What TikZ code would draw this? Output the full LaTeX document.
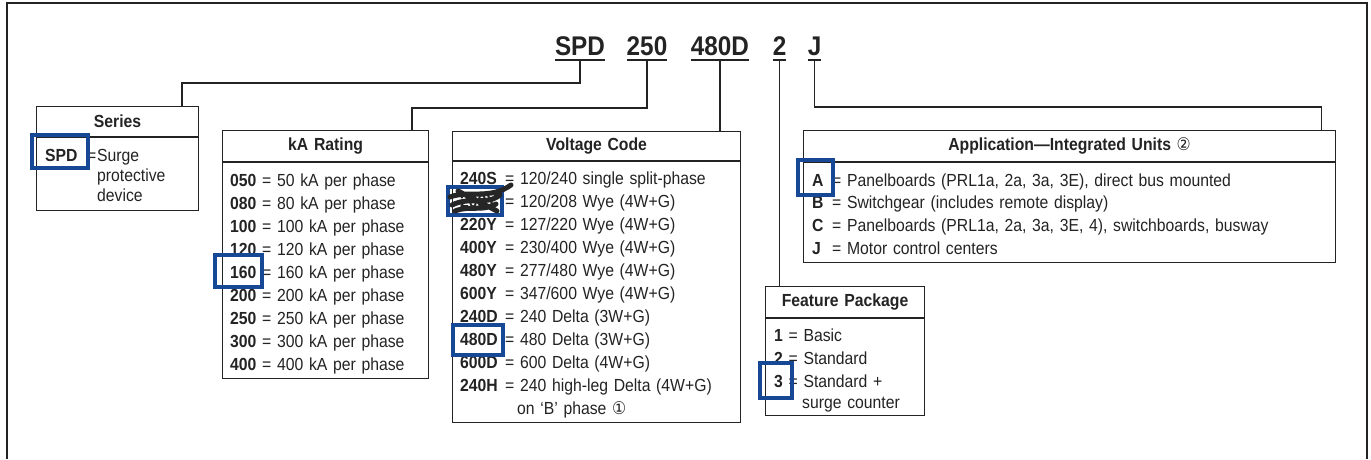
\documentclass[tikz,border=0pt]{standalone}
\usepackage{fontspec}
\setmainfont[FakeStretch=0.9,WordSpace=1.3]{Liberation Sans}
\newfontfamily\symfont[FakeStretch=0.9]{DejaVu Sans}
\definecolor{hlblue}{RGB}{22,72,150}
\definecolor{ink}{RGB}{35,35,35}
\newcommand{\vc}[1]{\makebox[45pt][l]{\bfseries #1}}
\newcommand{\ac}[1]{\makebox[20pt][l]{\bfseries #1}}
\begin{document}
\begin{tikzpicture}[x=1pt,y=-1pt,
  box/.style={draw=ink, line width=1.2pt, inner sep=0pt, anchor=north west},
  conn/.style={draw=ink, line width=1.2pt},
  hl/.style={draw=hlblue, line width=3.4pt},
  txt/.style={anchor=base west, inner sep=0pt, text=ink, font=\fontsize{17.5}{20}\selectfont},
  head/.style={anchor=center, inner sep=0pt, text=ink, font=\fontsize{17.5}{20}\selectfont\bfseries},
  code/.style={anchor=base, inner sep=0pt, text=ink, font=\fontsize{27}{30}\selectfont\bfseries}]
\useasboundingbox (0,0) rectangle (1371,459);
% frame
\draw[ink, line width=1.8pt] (7,459) -- (7,3) -- (1367,3) -- (1367,459);

% catalogue number
\node[code] (tSPD) at (580,55) {SPD};
\node[code] (t250) at (647,55) {250};
\node[code] (t480) at (720,55) {480D};
\node[code] (t2)   at (779.5,55) {2};
\node[code] (tJ)   at (814.5,55) {J};
\foreach \n in {tSPD,t250,t480,t2,tJ}
  \draw[conn] ([yshift=-5pt]\n.base west) -- ([yshift=-5pt]\n.base east);
\coordinate (uSPD) at ([yshift=-5pt]tSPD.base);
\coordinate (u250) at ([yshift=-5pt]t250.base);
\coordinate (u480) at ([yshift=-5pt]t480.base);
\coordinate (u2)   at ([yshift=-5pt]t2.base);
\coordinate (uJ)   at ([yshift=-5pt]tJ.base);

% boxes
\node[box, minimum width=162pt, minimum height=104pt] (series) at (36,106) {};
\node[box, minimum width=206pt, minimum height=248pt] (ka) at (222,130) {};
\node[box, minimum width=288pt, minimum height=291pt] (volt) at (452,131) {};
\node[box, minimum width=159pt, minimum height=129pt] (feat) at (765,286) {};
\node[box, minimum width=532pt, minimum height=132pt] (app) at (803,130) {};
\draw[conn] ([yshift=-31pt]series.north west) -- ([yshift=-31pt]series.north east);
\draw[conn] ([yshift=-32pt]ka.north west) -- ([yshift=-32pt]ka.north east);
\draw[conn] ([yshift=-30pt]volt.north west) -- ([yshift=-30pt]volt.north east);
\draw[conn] ([yshift=-32pt]feat.north west) -- ([yshift=-32pt]feat.north east);
\draw[conn] ([yshift=-32pt]app.north west) -- ([yshift=-32pt]app.north east);

% connectors
\draw[conn] (uSPD) -- (580,83) -| ([xshift=146pt]series.north west);
\draw[conn] (u250) -- (647,108) -| ([xshift=190pt]ka.north west);
\draw[conn] (u480) -- (u480 |- volt.north);
\draw[conn] (u2) -- (u2 |- feat.north);
\draw[conn] (uJ) -- (814.5,107) -| ([xshift=-15pt]app.north east);

% headers
\node[head] (hSeries) at ([yshift=-15.5pt]series.north) {Series};
\node[head] (hKa) at ([yshift=-16pt]ka.north) {kA Rating};
\node[head] (hVolt) at ([yshift=-15pt]volt.north) {Voltage Code};
\node[head] (hFeat) at ([yshift=-16pt]feat.north) {Feature Package};
\node[head] (hApp) at ([yshift=-16pt]app.north) {Application---Integrated Units {\symfont\mdseries ②}};

% series body
\node[txt] (sCode) at (45,161) {\bfseries SPD};
\node[txt] (sEq) at (87,161) {=};
\node[txt] (s1) at (97,161) {Surge};
\node[txt] (s2) at (97,181) {protective};
\node[txt] (s3) at (97,201) {device};

% kA body
\foreach \c/\d [count=\i] in {050/50,080/80,100/100,120/120,160/160,200/200,250/250,300/300,400/400}
  \node[txt] (k\i) at (230,{186+23*(\i-1)}) {\textbf{\c} = \d\ kA per phase};

% voltage body
\node[txt] (v1) at (460,184) {\vc{240S}= 120/240 single split-phase};
\node[txt] (v2) at (460,207) {\vc{208Y}= 120/208 Wye (4W+G)};
\node[txt] (v3) at (460,230) {\vc{220Y}= 127/220 Wye (4W+G)};
\node[txt] (v4) at (460,253) {\vc{400Y}= 230/400 Wye (4W+G)};
\node[txt] (v5) at (460,276) {\vc{480Y}= 277/480 Wye (4W+G)};
\node[txt] (v6) at (460,299) {\vc{600Y}= 347/600 Wye (4W+G)};
\node[txt] (v7) at (460,322) {\vc{240D}= 240 Delta (3W+G)};
\node[txt] (v8) at (460,345) {\vc{480D}= 480 Delta (3W+G)};
\node[txt] (v9) at (460,368) {\vc{600D}= 600 Delta (4W+G)};
\node[txt] (v10) at (460,391) {\vc{240H}= 240 high-leg Delta (4W+G)};
\node[txt] (v11) at (517,414) {on `B' phase {\symfont ①}};

% feature body
\node[txt] (f1) at (774,341) {\textbf{1} = Basic};
\node[txt] (f2) at (774,364) {\textbf{2} = Standard};
\node[txt] (f3) at (774,387) {\textbf{3} = Standard +};
\node[txt] (f4) at (802,408) {surge counter};

% application body
\node[txt] (a1) at (812,186) {\ac{A}= Panelboards (PRL1a, 2a, 3a, 3E), direct bus mounted};
\node[txt] (a2) at (812,208) {\ac{B}= Switchgear (includes remote display)};
\node[txt] (a3) at (812,231) {\ac{C}= Panelboards (PRL1a, 2a, 3a, 3E, 4), switchboards, busway};
\node[txt] (a4) at (812,254) {\ac{J}= Motor control centers};

% highlights
\draw[hl] (32,135) rectangle (88,168);
\draw[hl] (215,255) rectangle (262,287);
\draw[hl] (448,187) rectangle (502,215);
\draw[hl] (453,325) rectangle (503,355);
\draw[hl] (760,363) rectangle (792,398);
\draw[hl] (798,160) rectangle (833,195);
% scribble over 208Y
\draw[black!85, line width=5pt, line cap=round, line join=round]
  (450,197) .. controls (468,190) and (490,200) .. (511,185)
  (452,205) .. controls (470,196) and (486,206) .. (500,195)
  (458,191) -- (497,211)
  (455,211) .. controls (470,205) and (482,212) .. (496,204);
\end{tikzpicture}
\end{document}
